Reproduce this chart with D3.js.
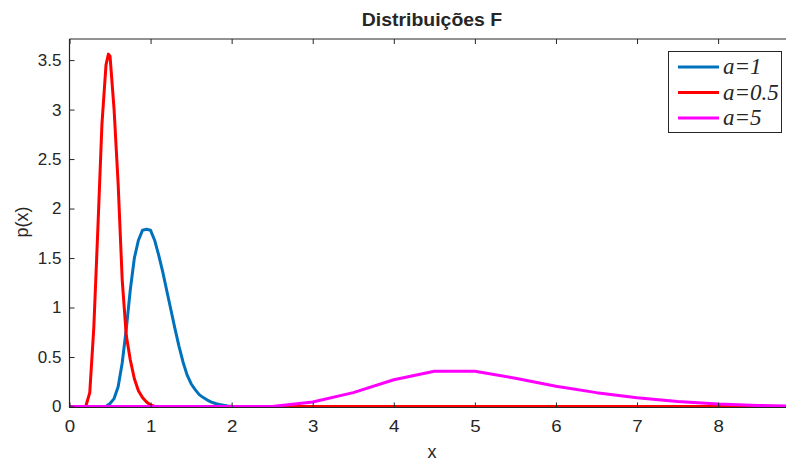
<!DOCTYPE html>
<html><head><meta charset="utf-8">
<script src="https://cdn.jsdelivr.net/npm/d3@7"></script>
<style>
html,body{margin:0;padding:0;background:#fff;overflow:hidden;}
text{font-family:"Liberation Sans",Arial,sans-serif;fill:#262626;}
</style></head>
<body><svg id="chart" width="786" height="463"></svg>
<script>
// ---- data ----
const xTicks = [0,1,2,3,4,5,6,7,8];
const yTicks = [0,0.5,1,1.5,2,2.5,3,3.5];
const seriesNames = ["a=1","a=0.5","a=5"];
const seriesColors = ["#0072BD","#FF0000","#FF00FF"];

const xBlue = [0,0.45,0.5,0.55,0.6,0.65,0.7,0.75,0.8,0.85,0.9,0.95,1.0,1.05,1.1,1.15,1.2,1.25,1.3,1.35,1.4,1.45,1.5,1.55,1.6,1.65,1.7,1.75,1.8,1.85,1.9,1.95,2.0];
const yBlue = [0,0,0.03,0.08,0.2,0.44,0.78,1.18,1.5,1.68,1.78,1.79,1.78,1.68,1.53,1.36,1.17,0.98,0.79,0.61,0.45,0.32,0.23,0.17,0.12,0.09,0.065,0.045,0.03,0.02,0.012,0.006,0.002];

const xRed = [0,0.2,0.25,0.3,0.35,0.4,0.45,0.48,0.5,0.55,0.6,0.65,0.7,0.75,0.8,0.85,0.9,0.95,1.0,1.05,8.93];
const yRed = [0,0,0.14,0.8,1.8,2.85,3.45,3.56,3.54,3.0,2.25,1.28,0.72,0.47,0.28,0.16,0.09,0.045,0.015,0,0];

const xMag = [0,2.5,3.0,3.5,4.0,4.5,5.0,5.5,6.0,6.5,7.0,7.5,8.0,8.5,8.93];
const yMag = [0,0,0.045,0.14,0.27,0.357,0.357,0.285,0.205,0.14,0.088,0.05,0.025,0.01,0.004];

// ---- layout ----
const svg = d3.select("#chart");
const L = 69.5, R = 793.5, T = 39, B = 407.5;
const x = d3.scaleLinear().domain([0, 8.93]).range([L, R]);
const y = d3.scaleLinear().domain([0, 3.713]).range([406.5, T]);

svg.append("defs").append("clipPath").attr("id","clip")
  .append("rect").attr("x",L-2).attr("y",T).attr("width",R-L+4).attr("height",B-T+3);

const line = d3.line().x(d=>x(d[0])).y(d=>y(d[1]));
const series = [
  d3.zip(xBlue,yBlue),
  d3.zip(xRed,yRed),
  d3.zip(xMag,yMag)
];
const g = svg.append("g").attr("clip-path","url(#clip)");
series.forEach((s,i)=>{
  g.append("path").datum(s).attr("d",line)
    .attr("fill","none").attr("stroke",seriesColors[i])
    .attr("stroke-width",3).attr("stroke-linejoin","round");
});

// axes box
const axc = "#262626";
svg.append("line").attr("x1",L).attr("x2",R).attr("y1",B).attr("y2",B).attr("stroke",axc).attr("stroke-width",1.2);
svg.append("line").attr("x1",L).attr("x2",R).attr("y1",T).attr("y2",T).attr("stroke",axc).attr("stroke-width",1.2);
svg.append("line").attr("x1",L).attr("x2",L).attr("y1",T).attr("y2",B).attr("stroke",axc).attr("stroke-width",1.2);
svg.append("line").attr("x1",R).attr("x2",R).attr("y1",T).attr("y2",B).attr("stroke",axc).attr("stroke-width",1.2);

// x ticks (bottom & top, inward)
const xAxisB = d3.axisBottom(x).tickValues(xTicks).tickSize(-5).tickPadding(12).tickFormat(d3.format("d"));
const gxb = svg.append("g").attr("transform",`translate(0,${B})`).call(xAxisB);
gxb.select(".domain").remove();
gxb.selectAll("line").attr("stroke",axc);
gxb.selectAll("text").attr("font-size",17).attr("fill",axc).attr("transform","scale(1.1,1)").attr("x",function(d){return 0;})
  .each(function(d){ d3.select(this).attr("transform","scale(1.1,1)"); });
const xAxisT = d3.axisTop(x).tickValues(xTicks).tickSize(-5).tickFormat("");
const gxt = svg.append("g").attr("transform",`translate(0,${T})`).call(xAxisT);
gxt.select(".domain").remove();
gxt.selectAll("line").attr("stroke",axc);

// y ticks
const yAxis = d3.axisLeft(y).tickValues(yTicks).tickSize(-5).tickPadding(8).tickFormat(d=>String(d));
const gy = svg.append("g").attr("transform",`translate(${L},0)`).call(yAxis);
gy.select(".domain").remove();
gy.selectAll("line").attr("stroke",axc);
gy.selectAll("text").attr("font-size",17).attr("fill",axc);

// labels
svg.append("text").attr("transform",`translate(432,26) scale(1.08,1)`).attr("text-anchor","middle")
  .attr("font-size",18).attr("font-weight","bold").attr("fill","#000").text("Distribuições F");
svg.append("text").attr("transform",`translate(432,458)`).attr("text-anchor","middle")
  .attr("font-size",18).text("x");
svg.append("text").attr("transform",`translate(28,222) rotate(-90)`).attr("text-anchor","middle")
  .attr("font-size",18).text("p(x)");

// legend
const lg = svg.append("g");
lg.append("rect").attr("x",668.5).attr("y",51.5).attr("width",113).attr("height",81)
  .attr("fill","#fff").attr("stroke",axc).attr("stroke-width",1);
seriesNames.forEach((n,i)=>{
  const ry = 67 + i*25.5;
  lg.append("line").attr("x1",678).attr("x2",719).attr("y1",ry).attr("y2",ry)
    .attr("stroke",seriesColors[i]).attr("stroke-width",3);
  lg.append("text").attr("x",723).attr("y",ry+7).attr("font-size",23)
    .attr("font-style","italic").style("font-family","'Liberation Serif','Times New Roman',serif")
    .attr("fill","#000").text(n);
});
</script></body></html>
